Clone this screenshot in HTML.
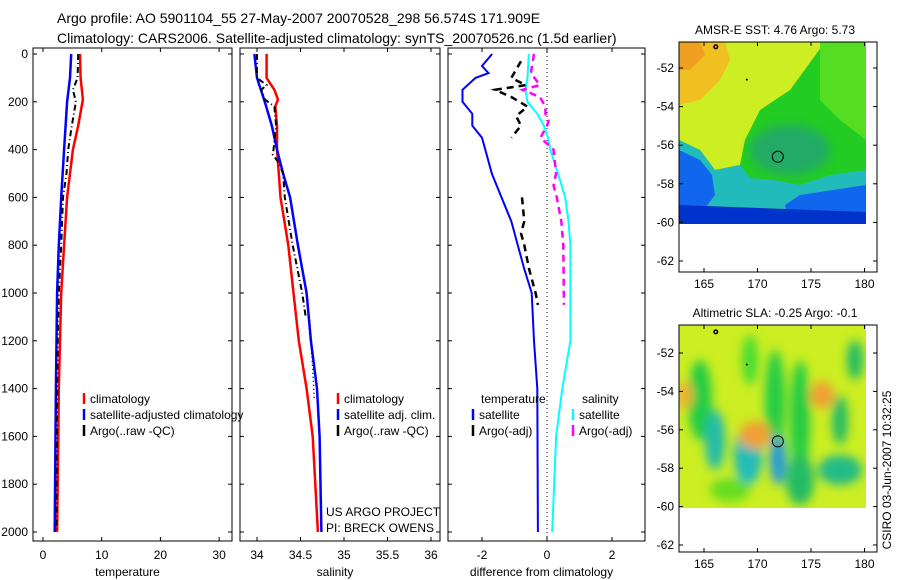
<!DOCTYPE html>
<html><head><meta charset="utf-8"><style>
body{margin:0;background:#fff;}
svg{display:block;font-family:"Liberation Sans",sans-serif;}
</style></head><body>
<svg id="chart" width="900" height="580" viewBox="0 0 900 580">
<defs>
<filter id="bl" x="-20%" y="-20%" width="140%" height="140%"><feGaussianBlur stdDeviation="5"/></filter>
<clipPath id="c1"><rect x="679" y="42" width="187" height="182"/></clipPath>
<clipPath id="c2"><rect x="679" y="325" width="187" height="183"/></clipPath>
</defs>
<text x="57" y="23" font-size="14">Argo profile: AO 5901104_55 27-May-2007 20070528_298 56.574S 171.909E</text>
<text x="57" y="43" font-size="14">Climatology: CARS2006. Satellite-adjusted climatology: synTS_20070526.nc (1.5d earlier)</text>

<!-- SST map -->
<g>
<text x="775" y="34" font-size="12" text-anchor="middle">AMSR-E SST: 4.76 Argo: 5.73</text>
<g clip-path="url(#c1)">
<rect x="679" y="42" width="187" height="182" fill="#22cc22"/>
<polygon points="679,42 825,42 790,90 760,110 745,140 740,165 715,170 700,150 679,140" fill="#ccee22"/>
<polygon points="679,42 725,42 730,60 720,80 700,100 679,105" fill="#f0c020"/>
<polygon points="679,42 700,42 705,55 690,70 679,70" fill="#f0a020"/>
<polygon points="679,140 700,150 715,170 740,165 750,178 775,180 800,185 830,175 866,170 866,224 679,224" fill="#22bbbb"/>
<polygon points="679,150 700,160 712,175 715,195 700,215 679,215" fill="#1166ee"/>
<polygon points="800,195 866,185 866,224 790,224 785,205" fill="#1166ee"/>
<polygon points="679,205 866,212 866,224 679,224" fill="#0033cc"/>
<polygon points="820,42 866,42 866,140 840,120 820,100" fill="#55dd22"/>
<ellipse cx="790" cy="150" rx="40" ry="25" fill="#22aa66" filter="url(#bl)"/>
</g>
<rect x="679" y="42" width="198" height="230" fill="none" stroke="#000"/>
</g>

<!-- SLA map -->
<g>
<text x="775" y="317" font-size="12" text-anchor="middle">Altimetric SLA: -0.25 Argo: -0.1</text>
<g clip-path="url(#c2)">
<rect x="679" y="325" width="187" height="183" fill="#ccee22"/>
<g filter="url(#bl)">
<ellipse cx="700" cy="400" rx="12" ry="40" fill="#22cc44"/>
<ellipse cx="715" cy="440" rx="10" ry="30" fill="#22bbaa"/>
<ellipse cx="748" cy="455" rx="14" ry="30" fill="#22bbbb"/>
<ellipse cx="775" cy="400" rx="10" ry="50" fill="#22cc44"/>
<ellipse cx="800" cy="420" rx="10" ry="60" fill="#22cc44"/>
<ellipse cx="778" cy="460" rx="8" ry="25" fill="#2299dd"/>
<ellipse cx="840" cy="470" rx="22" ry="15" fill="#22bb88"/>
<ellipse cx="855" cy="360" rx="8" ry="20" fill="#22bb66"/>
<ellipse cx="840" cy="420" rx="8" ry="25" fill="#22bb66"/>
<ellipse cx="750" cy="360" rx="8" ry="25" fill="#44dd33"/>
<ellipse cx="755" cy="435" rx="16" ry="14" fill="#f0a030"/>
<ellipse cx="822" cy="395" rx="12" ry="14" fill="#f0a030"/>
<ellipse cx="685" cy="395" rx="8" ry="14" fill="#f0b030"/>
<ellipse cx="800" cy="480" rx="14" ry="25" fill="#22bb66"/>
<ellipse cx="730" cy="490" rx="20" ry="12" fill="#66dd22"/>
</g>
</g>
<rect x="679" y="325" width="198" height="227" fill="none" stroke="#000"/>
</g>
<text transform="translate(891,470) rotate(-90)" font-size="12" text-anchor="middle">CSIRO 03-Jun-2007 10:32:25</text>

<g id="plots"></g>
</svg>
<script>
// ----- data -----
const depthTicks=[0,200,400,600,800,1000,1200,1400,1600,1800,2000];
const tempTicks=[0,10,20,30];
const salTicks=[34,34.5,35,35.5,36];
const salTickLabels=["34","34.5","35","35.5","36"];
const diffTicks=[-2,0,2];
const latTicks=[-52,-54,-56,-58,-60,-62];
const lonTicks=[165,170,175,180];

const tClimD=[0,100,190,300,400,500,600,800,1000,1200,1400,1600,1800,2000];
const tClim=[6.3,6.4,6.8,6.0,5.1,4.6,4.1,3.6,3.1,2.9,2.7,2.6,2.5,2.4];
const tSatD=[0,100,200,400,600,800,1000,1200,1400,1700,2000];
const tSat=[4.8,4.6,4.1,3.6,3.1,2.7,2.4,2.3,2.2,2.1,2.0];
const tArgoD=[0,100,150,200,300,400,500,600,800,1000,1200,1500,1800,2000];
const tArgo=[6.0,5.9,5.1,5.6,4.9,4.3,4.0,3.4,3.1,2.7,2.5,2.4,2.3,2.3];

const sClimD=[0,100,150,190,220,300,400,500,600,800,1000,1200,1400,1600,1800,2000];
const sClim=[34.11,34.11,34.2,34.24,34.21,34.23,34.23,34.25,34.27,34.36,34.42,34.48,34.57,34.64,34.67,34.7];
const sSatD=[0,100,200,300,400,500,600,800,1000,1200,1400,1600,2000];
const sSat=[33.97,34.0,34.09,34.17,34.23,34.3,34.38,34.47,34.57,34.62,34.69,34.72,34.74];
const sArgoD=[0,100,130,150,190,220,300,400,420,450,500,600,800,1000,1100];
const sArgo=[34.0,34.0,34.11,34.05,34.09,34.2,34.22,34.19,34.18,34.24,34.3,34.32,34.41,34.52,34.56];
const sRawD=[1100,1250,1450];
const sRaw=[34.6,34.63,34.66];

const dTSatD=[0,50,80,100,150,200,250,300,350,400,500,600,700,800,900,1000,1200,1400,2000];
const dTSat=[-1.69,-2.0,-1.8,-2.2,-2.6,-2.6,-2.3,-2.3,-2.0,-1.9,-1.7,-1.4,-1.1,-0.9,-0.7,-0.47,-0.4,-0.3,-0.28];
const dSSatD=[0,100,150,200,250,300,350,400,500,600,700,800,1000,1200,1400,1600,2000];
const dSSat=[-0.56,-0.6,-0.66,-0.6,-0.3,-0.1,0.03,0.1,0.34,0.56,0.66,0.72,0.72,0.72,0.47,0.28,0.16];
const dSArgoD=[0,80,130,150,180,220,250,280,300,350,400,500,550,600,700,800,1050];
const dSArgo=[-0.4,-0.5,-0.22,-0.75,-0.22,-0.05,-0.05,0.05,0,-0.2,0.2,0.28,0.2,0.3,0.44,0.5,0.52];
const dTArgoD1=[30,100,130,150,180,220,260,300,350];
const dTArgo1=[-0.8,-1.1,-0.65,-1.6,-1.1,-0.6,-0.95,-0.8,-1.1];
const dTArgoD2=[600,700,750,800,900,1000,1050];
const dTArgo2=[-0.77,-0.7,-0.8,-0.7,-0.55,-0.35,-0.28];

const floatLon=[171.9];
const floatLat=[-56.6];

// ----- axes -----
const NS="http://www.w3.org/2000/svg";
const root=document.getElementById('plots');
function mk(tag,attrs,parent){const e=document.createElementNS(NS,tag);for(const k in attrs)e.setAttribute(k,attrs[k]);(parent||root).appendChild(e);return e;}
const Y0=54,Y1=532,TOP=48,BOT=541;
const yD=d=>Y0+(Y1-Y0)*d/2000;
const xT=v=>43+5.87*v;
const xS=v=>257+87*(v-34);
const xDf=v=>547+32.5*v;

function panel(name,x0,x1,ticks,labels,fx,title,showY){
  const g=mk('g',{});
  
  
  const r=mk('rect',{x:x0,y:TOP,width:x1-x0,height:BOT-TOP,fill:'none',stroke:'#000','stroke-width':1},g);
  
  
  depthTicks.forEach(d=>{
    mk('line',{x1:x0,x2:x0+4,y1:yD(d),y2:yD(d),stroke:'#000'},g);
    mk('line',{x1:x1-4,x2:x1,y1:yD(d),y2:yD(d),stroke:'#000'},g);
    if(showY){const t=mk('text',{x:x0-5,y:yD(d)+4,'font-size':12,'text-anchor':'end'},g);t.textContent=d;
      
      }
  });
  ticks.forEach((v,i)=>{
    const x=fx(v);
    mk('line',{x1:x,x2:x,y1:TOP,y2:TOP+4,stroke:'#000'},g);
    mk('line',{x1:x,x2:x,y1:BOT-4,y2:BOT,stroke:'#000'},g);
    const t=mk('text',{x:x,y:559,'font-size':12,'text-anchor':'middle'},g);t.textContent=labels[i];
    
    
  });
  const tt=mk('text',{x:(x0+x1)/2-5,y:576,'font-size':12,'text-anchor':'middle'},g);tt.textContent=title;
  
  
}
panel('temperature-panel',33,232,tempTicks,tempTicks.map(String),xT,'temperature',true);
panel('salinity-panel',240,440,salTicks,salTickLabels,xS,'salinity',false);
panel('difference-panel',448,645,diffTicks,diffTicks.map(String),xDf,'difference from climatology',false);

// zero line
const zl=mk('line',{x1:xDf(0),x2:xDf(0),y1:TOP,y2:BOT,stroke:'#000','stroke-dasharray':'1,3'});



function series(name,ds,vs,fx,color,w,dash){
  const pts=ds.map((d,i)=>fx(vs[i]).toFixed(1)+','+yD(d).toFixed(1)).join(' ');
  const p=mk('polyline',{points:pts,fill:'none',stroke:color,'stroke-width':w});
  if(dash)p.setAttribute('stroke-dasharray',dash);
  
  
}
series('temp-climatology-line',tClimD,tClim,xT,'#f00',2.5);
series('temp-satellite-line',tSatD,tSat,xT,'#00f',2.5);
series('temp-argo-line',tArgoD,tArgo,xT,'#000',2,'6,3,1,3');
series('sal-climatology-line',sClimD,sClim,xS,'#f00',2.5);
series('sal-satellite-line',sSatD,sSat,xS,'#00f',2.5);
series('sal-argo-line',sArgoD,sArgo,xS,'#000',2,'6,3,1,3');
series('sal-argo-raw-line',sRawD,sRaw,xS,'#000',1.5,'1,3');
series('diff-temp-satellite-line',dTSatD,dTSat,xDf,'#00f',2);
series('diff-sal-satellite-line',dSSatD,dSSat,xDf,'#0ff',2);
series('diff-sal-argo-line',dSArgoD,dSArgo,xDf,'#f0f',2.5,'7,5');
series('diff-temp-argo-line-upper',dTArgoD1,dTArgo1,xDf,'#000',2.5,'7,5');
series('diff-temp-argo-line-lower',dTArgoD2,dTArgo2,xDf,'#000',2.5,'7,5');

// legends
function legend(x,y,color,label,name){
  const b=mk('line',{x1:x,x2:x,y1:y-10,y2:y+1,stroke:color,'stroke-width':2.5});
  
  
  const t=mk('text',{x:x+6,y:y,'font-size':12});t.textContent=label;
  
  
}
legend(84,403,'#f00','climatology','legend-temp-climatology');
legend(84,419,'#00f','satellite-adjusted climatology','legend-temp-satellite');
legend(84,435,'#000','Argo(..raw -QC)','legend-temp-argo');
legend(338,403,'#f00','climatology','legend-sal-climatology');
legend(338,419,'#00f','satellite adj. clim.','legend-sal-satellite');
legend(338,435,'#000','Argo(..raw -QC)','legend-sal-argo');
legend(473,419,'#00f','satellite','legend-diff-temp-satellite');
legend(473,435,'#000','Argo(-adj)','legend-diff-temp-argo');
legend(573,419,'#0ff','satellite','legend-diff-sal-satellite');
legend(573,435,'#f0f','Argo(-adj)','legend-diff-sal-argo');
[['temperature',481,'legend-temperature-heading'],['salinity',582,'legend-salinity-heading']].forEach(a=>{
  const t=mk('text',{x:a[1],y:403,'font-size':12});t.textContent=a[0];
  
  
});
[['US ARGO PROJECT',516,'project-label'],['PI: BRECK OWENS',532,'pi-label']].forEach(a=>{
  const t=mk('text',{x:326,y:a[1],'font-size':12});t.textContent=a[0];
  
  
});

// map axes
function mapAxes(name,top,bottom,lat52,latScale){
  const xL=v=>704+(v-165)*10.7;
  const yL=v=>lat52+(-52-v)*latScale;
  latTicks.forEach(v=>{
    const y=yL(v);
    mk('line',{x1:679,x2:683,y1:y,y2:y,stroke:'#000'});
    mk('line',{x1:873,x2:877,y1:y,y2:y,stroke:'#000'});
    const t=mk('text',{x:674,y:y+4,'font-size':12,'text-anchor':'end'});t.textContent=v;
    
    
  });
  lonTicks.forEach(v=>{
    const x=xL(v);
    mk('line',{x1:x,x2:x,y1:top,y2:top+4,stroke:'#000'});
    mk('line',{x1:x,x2:x,y1:bottom-4,y2:bottom,stroke:'#000'});
    const t=mk('text',{x:x,y:bottom+16,'font-size':12,'text-anchor':'middle'});t.textContent=v;
    
    
  });
  floatLon.forEach((lo,i)=>{
    const c=mk('circle',{cx:xL(lo),cy:yL(floatLat[i]),r:5.5,fill:'none',stroke:'#000'});
    
    
  });
  mk('circle',{cx:xL(166.1),cy:yL(-50.9),r:1.8,fill:'none',stroke:'#000','stroke-width':1.5});
  mk('circle',{cx:xL(169),cy:yL(-52.6),r:1,fill:'#000'});
}
mapAxes('sst-map',42,272,68,19.3);
mapAxes('sla-map',325,552,353,19.2);
</script>
</body></html>
